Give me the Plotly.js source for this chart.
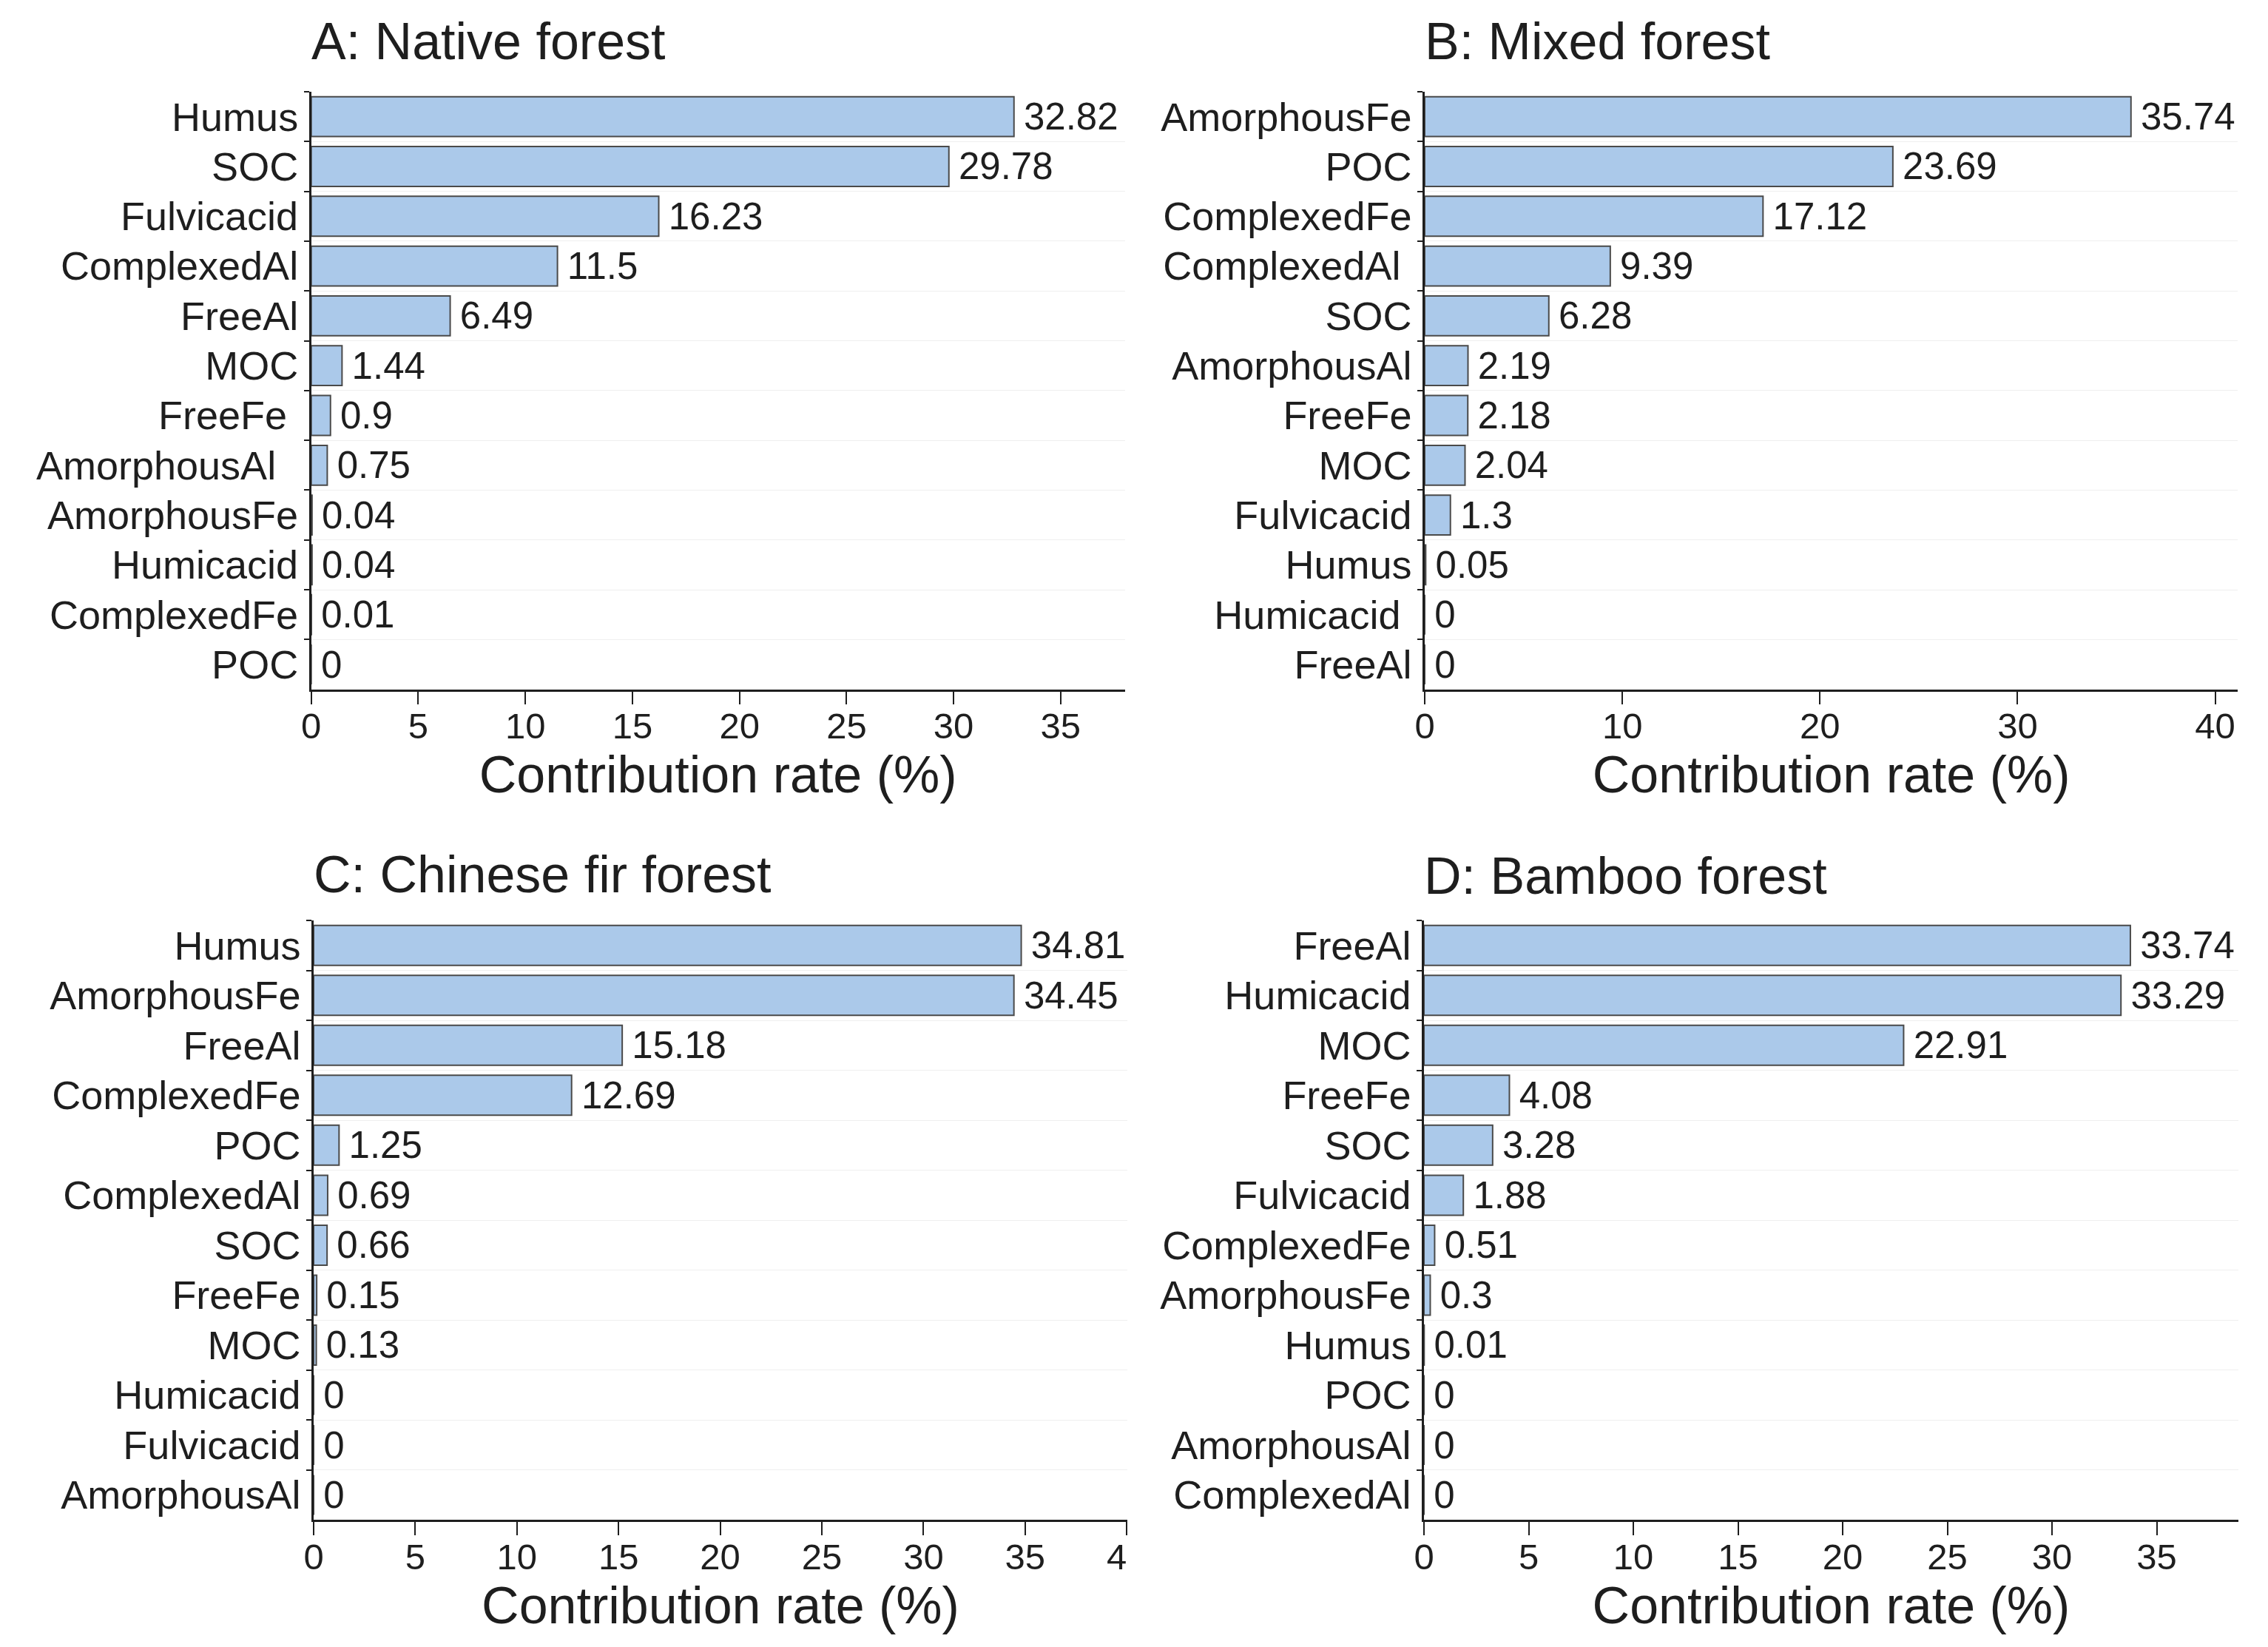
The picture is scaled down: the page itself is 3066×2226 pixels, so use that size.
<!DOCTYPE html>
<html>
<head>
<meta charset="utf-8">
<script src="https://cdn.plot.ly/plotly-3.0.1.min.js"></script>
<style>
  html, body { margin: 0; padding: 0; background: #ffffff; }
  #chart { width: 3066px; height: 2226px; }
</style>
</head>
<body>
<div id="chart"></div>
<script>
// ---------- data (top-to-bottom order, as in the figure) ----------
const catsA = ['Humus', 'SOC', 'Fulvicacid', 'ComplexedAl', 'FreeAl', 'MOC', 'FreeFe\u00a0', 'AmorphousAl\u00a0\u00a0', 'AmorphousFe', 'Humicacid', 'ComplexedFe', 'POC'];
const valsA = [32.82, 29.78, 16.23, 11.5, 6.49, 1.44, 0.9, 0.75, 0.04, 0.04, 0.01, 0];

const catsB = ['AmorphousFe', 'POC', 'ComplexedFe', 'ComplexedAl\u00a0', 'SOC', 'AmorphousAl', 'FreeFe', 'MOC', 'Fulvicacid', 'Humus', 'Humicacid\u00a0', 'FreeAl'];
const valsB = [35.74, 23.69, 17.12, 9.39, 6.28, 2.19, 2.18, 2.04, 1.3, 0.05, 0, 0];

const catsC = ['Humus', 'AmorphousFe', 'FreeAl', 'ComplexedFe', 'POC', 'ComplexedAl', 'SOC', 'FreeFe', 'MOC', 'Humicacid', 'Fulvicacid', 'AmorphousAl'];
const valsC = [34.81, 34.45, 15.18, 12.69, 1.25, 0.69, 0.66, 0.15, 0.13, 0, 0, 0];

const catsD = ['FreeAl', 'Humicacid', 'MOC', 'FreeFe', 'SOC', 'Fulvicacid', 'ComplexedFe', 'AmorphousFe', 'Humus', 'POC', 'AmorphousAl', 'ComplexedAl'];
const valsD = [33.74, 33.29, 22.91, 4.08, 3.28, 1.88, 0.51, 0.3, 0.01, 0, 0, 0];

const panelTitles = ['A: Native forest', 'B: Mixed forest', 'C: Chinese fir forest', 'D: Bamboo forest'];
const xAxisTitle = 'Contribution rate (%)';

// panel C: last tick label is cut to "4" in the figure
const tickValsC = [0, 5, 10, 15, 20, 25, 30, 35, 40];
const tickTextC = ['0', '5', '10', '15', '20', '25', '30', '35', '4\u00a0\u00a0'];

// ---------- style ----------
const FONT = 'Liberation Sans, Arial, Helvetica, sans-serif';
const INK = '#1e1e1e';
const BAR_FILL = '#abc9ea';
const BAR_EDGE = '#4a4a4a';
const W = 3066, H = 2226;

function px2x(p) { return p / W; }
function px2y(p) { return 1 - p / H; }

function barTrace(cats, vals, xa, ya) {
  return {
    type: 'bar', orientation: 'h',
    y: cats, x: vals,
    xaxis: xa, yaxis: ya,
    text: vals.map(String),
    texttemplate: '\u2009%{text}',
    textposition: 'outside',
    constraintext: 'none',
    cliponaxis: false,
    outsidetextfont: { family: FONT, size: 51, color: INK },
    marker: { color: BAR_FILL, line: { color: BAR_EDGE, width: 2 } },
    hoverinfo: 'x+y',
    showlegend: false
  };
}

function yAxis(domain, anchor) {
  return {
    domain: domain, anchor: anchor,
    type: 'category',
    range: [11.5, -0.5],
    tickson: 'boundaries',
    ticks: 'outside', ticklen: 7, tickwidth: 2, tickcolor: INK,
    showline: true, linecolor: INK, linewidth: 2.5,
    showgrid: true, gridcolor: '#efefef', gridwidth: 1,
    zeroline: false,
    tickfont: { family: FONT, size: 54, color: INK },
    ticklabelstandoff: 4,
    automargin: false, fixedrange: true
  };
}

function xAxis(domain, anchor, range, extra) {
  return Object.assign({
    domain: domain, anchor: anchor,
    range: range,
    ticks: 'outside', ticklen: 18, tickwidth: 2, tickcolor: INK,
    showline: true, linecolor: INK, linewidth: 2.5,
    showgrid: false, zeroline: false,
    tickfont: { family: FONT, size: 49, color: INK },
    ticklabelstandoff: -13,
    title: { text: xAxisTitle, font: { family: FONT, size: 70, color: INK }, standoff: 0 },
    automargin: false, fixedrange: true
  }, extra || {});
}

const topRow = [px2y(931.7), px2y(124)];
const botRow = [px2y(2054.3), px2y(1244)];

const data = [
  barTrace(catsA, valsA, 'x', 'y'),
  barTrace(catsB, valsB, 'x2', 'y2'),
  barTrace(catsC, valsC, 'x3', 'y3'),
  barTrace(catsD, valsD, 'x4', 'y4')
];

const titleAnn = (text, xpx, ypx) => ({
  text: text, xref: 'paper', yref: 'paper',
  x: px2x(xpx), y: px2y(ypx), xanchor: 'left', yanchor: 'middle',
  showarrow: false, font: { family: FONT, size: 70, color: INK }
});

const layout = {
  width: W, height: H,
  margin: { l: 0, r: 0, t: 0, b: 0, pad: 0 },
  paper_bgcolor: '#ffffff', plot_bgcolor: '#ffffff',
  bargap: 0.2,
  showlegend: false,
  xaxis:  xAxis([px2x(420.7), px2x(1520.7)], 'y',  [0, 38.0], { dtick: 5, tick0: 0 }),
  yaxis:  yAxis(topRow, 'x'),
  xaxis2: xAxis([px2x(1926), px2x(3025.3)], 'y2', [0, 41.15], { dtick: 10, tick0: 0 }),
  yaxis2: yAxis(topRow, 'x2'),
  xaxis3: xAxis([px2x(424), px2x(1524)], 'y3', [0, 40.03], { tickmode: 'array', tickvals: tickValsC, ticktext: tickTextC }),
  yaxis3: yAxis(botRow, 'x3'),
  xaxis4: xAxis([px2x(1925), px2x(3026)], 'y4', [0, 38.9], { dtick: 5, tick0: 0 }),
  yaxis4: yAxis(botRow, 'x4'),
  annotations: [
    titleAnn(panelTitles[0], 419, 55.7),
    titleAnn(panelTitles[1], 1924, 55.7),
    titleAnn(panelTitles[2], 422, 1182.4),
    titleAnn(panelTitles[3], 1923, 1184)
  ]
};

Plotly.newPlot('chart', data, layout, { displayModeBar: false, responsive: false });
</script>
</body>
</html>
